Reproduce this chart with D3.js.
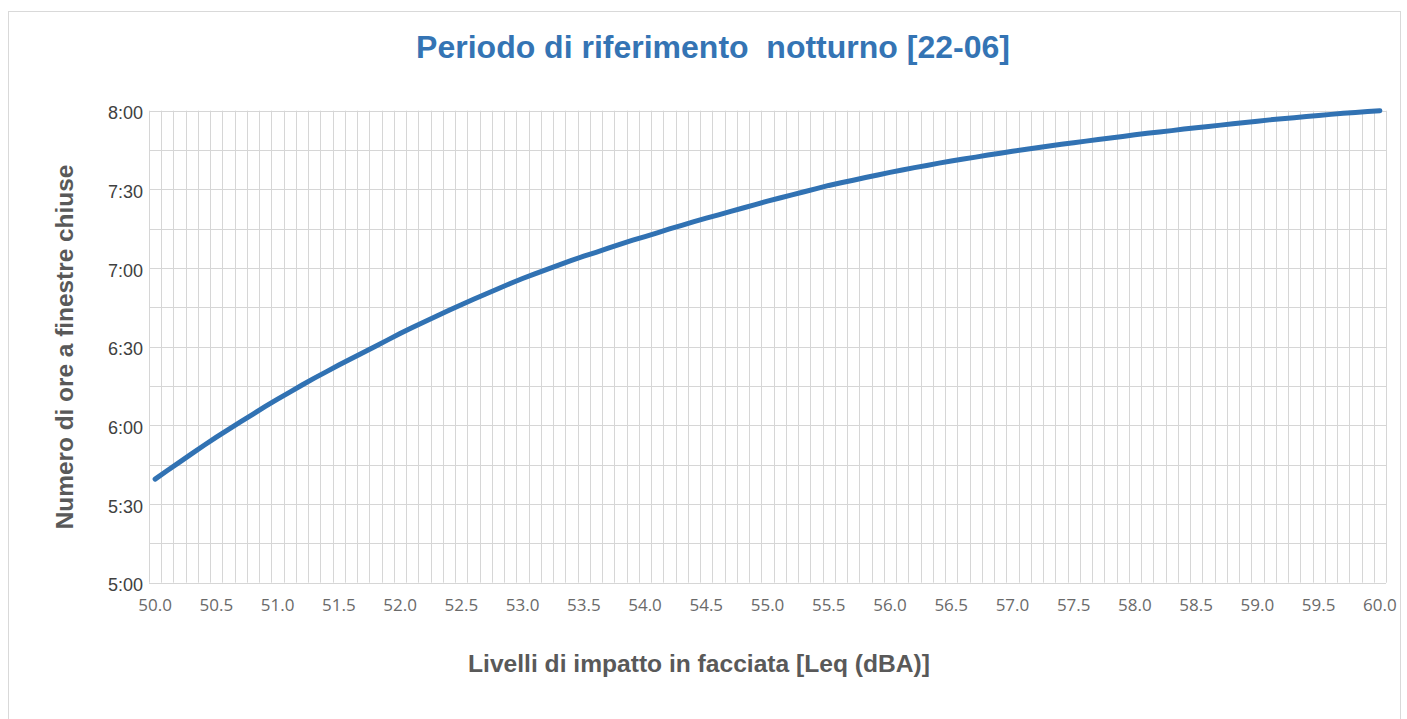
<!DOCTYPE html>
<html>
<head>
<meta charset="utf-8">
<script src="https://cdn.jsdelivr.net/npm/d3@7"></script>
<style>
  html, body { margin: 0; padding: 0; background: #ffffff; }
  svg { display: block; }
</style>
</head>
<body>
<svg id="chart" width="1407" height="719"></svg>
<script>
// ---- Data ----
const categories = [
  "50.0","50.1","50.2","50.3","50.4","50.5","50.6","50.7","50.8","50.9",
  "51.0","51.1","51.2","51.3","51.4","51.5","51.6","51.7","51.8","51.9",
  "52.0","52.1","52.2","52.3","52.4","52.5","52.6","52.7","52.8","52.9",
  "53.0","53.1","53.2","53.3","53.4","53.5","53.6","53.7","53.8","53.9",
  "54.0","54.1","54.2","54.3","54.4","54.5","54.6","54.7","54.8","54.9",
  "55.0","55.1","55.2","55.3","55.4","55.5","55.6","55.7","55.8","55.9",
  "56.0","56.1","56.2","56.3","56.4","56.5","56.6","56.7","56.8","56.9",
  "57.0","57.1","57.2","57.3","57.4","57.5","57.6","57.7","57.8","57.9",
  "58.0","58.1","58.2","58.3","58.4","58.5","58.6","58.7","58.8","58.9",
  "59.0","59.1","59.2","59.3","59.4","59.5","59.6","59.7","59.8","59.9",
  "60.0"
];
// closed-window time, in minutes (e.g. 339.5 = about 5:39)
const minutesClosed = [
  339.5,342.8,346.0,349.2,352.4,355.5,358.5,361.4,364.3,367.2,
  370.0,372.7,375.4,378.0,380.5,383.0,385.4,387.8,390.2,392.6,
  395.0,397.3,399.5,401.7,403.9,406.0,408.1,410.1,412.1,414.1,
  416.0,417.8,419.5,421.2,422.9,424.5,426.0,427.6,429.1,430.6,
  432.0,433.4,434.9,436.3,437.7,439.0,440.3,441.6,442.9,444.2,
  445.5,446.7,447.9,449.1,450.3,451.5,452.5,453.5,454.5,455.5,
  456.5,457.4,458.3,459.1,460.0,460.8,461.6,462.3,463.1,463.8,
  464.5,465.2,465.9,466.5,467.2,467.8,468.4,469.0,469.6,470.2,
  470.8,471.4,471.9,472.4,473.0,473.5,474.0,474.5,475.0,475.5,
  476.0,476.5,476.9,477.3,477.8,478.2,478.6,479.0,479.3,479.7,
  480.0
];
const xTickLabels = ["50.0","50.5","51.0","51.5","52.0","52.5","53.0","53.5","54.0","54.5",
  "55.0","55.5","56.0","56.5","57.0","57.5","58.0","58.5","59.0","59.5","60.0"];
const yTickMinutes = [300, 330, 360, 390, 420, 450, 480];
const yTickLabels = ["5:00","5:30","6:00","6:30","7:00","7:30","8:00"];
const yGridMinutes = [300,315,330,345,360,375,390,405,420,435,450,465,480];

const titleText = "Periodo di riferimento  notturno [22-06]";
const xTitleText = "Livelli di impatto in facciata [Leq (dBA)]";
const yTitleText = "Numero di ore a finestre chiuse";

// ---- Layout ----
const svg = d3.select("#chart");
const plot = { left: 149, right: 1386, top: 110.7, bottom: 582.7 };

// outer frame
svg.append("rect")
  .attr("x", 8.5).attr("y", 11.5)
  .attr("width", 1392).attr("height", 720)
  .attr("fill", "#ffffff")
  .attr("stroke", "#d9d9d9").attr("stroke-width", 1);

const x = d3.scaleBand().domain(categories).range([plot.left, plot.right]).padding(0);
const y = d3.scaleLinear().domain([300, 480]).range([plot.bottom, plot.top]);
const bw = x.bandwidth();
const cx = c => x(c) + bw / 2;

const grid = svg.append("g").attr("class", "grid");
// vertical gridlines at every category boundary
const vBounds = categories.map(c => x(c)).concat([plot.right]);
grid.selectAll("line.v").data(vBounds).join("line")
  .attr("class", "v")
  .attr("x1", d => Math.round(d) + 0.5).attr("x2", d => Math.round(d) + 0.5)
  .attr("y1", plot.top).attr("y2", plot.bottom)
  .attr("stroke", "#d6d6d6").attr("stroke-width", 1);
// horizontal gridlines every 15 minutes
grid.selectAll("line.h").data(yGridMinutes).join("line")
  .attr("class", "h")
  .attr("x1", plot.left).attr("x2", plot.right)
  .attr("y1", d => Math.round(y(d)) + 0.5).attr("y2", d => Math.round(y(d)) + 0.5)
  .attr("stroke", "#d6d6d6").attr("stroke-width", 1);

// Y axis labels
const yAxis = d3.axisLeft(y)
  .tickValues(yTickMinutes)
  .tickFormat((d, i) => yTickLabels[i])
  .tickSize(0).tickPadding(5);
const yg = svg.append("g").attr("transform", `translate(${plot.left - 1},0)`).call(yAxis);
yg.select(".domain").remove();
yg.selectAll("text")
  .attr("font-family", "Arial, 'Liberation Sans', sans-serif")
  .attr("font-size", "18px")
  .attr("fill", "#404040")
  .attr("dy", "0.45em");

// X axis labels
const xAxis = d3.axisBottom(x)
  .tickValues(xTickLabels)
  .tickSize(0).tickPadding(16);
const xg = svg.append("g").attr("transform", `translate(0,${plot.bottom})`).call(xAxis);
xg.select(".domain").remove();
xg.selectAll("text")
  .attr("font-family", "'Open Sans', sans-serif")
  .attr("font-size", "17px")
  .attr("fill", "#6a6a6a");

// Line
const line = d3.line()
  .x((d, i) => cx(categories[i]))
  .y(d => y(d));
svg.append("path")
  .datum(minutesClosed)
  .attr("d", line)
  .attr("fill", "none")
  .attr("stroke", "#3172b3")
  .attr("stroke-width", 5)
  .attr("stroke-linejoin", "round")
  .attr("stroke-linecap", "round");

// Titles
svg.append("text")
  .attr("x", 713).attr("y", 58)
  .attr("text-anchor", "middle")
  .attr("font-family", "Arial, 'Liberation Sans', sans-serif")
  .attr("font-weight", "bold")
  .attr("font-size", "32px")
  .attr("fill", "#3474b4")
  .style("white-space", "pre")
  .text(titleText);

svg.append("text")
  .attr("x", 699).attr("y", 672)
  .attr("text-anchor", "middle")
  .attr("font-family", "Arial, 'Liberation Sans', sans-serif")
  .attr("font-weight", "bold")
  .attr("font-size", "24.6px")
  .attr("fill", "#595959")
  .text(xTitleText);

svg.append("text")
  .attr("transform", "translate(73,347) rotate(-90)")
  .attr("text-anchor", "middle")
  .attr("font-family", "Arial, 'Liberation Sans', sans-serif")
  .attr("font-weight", "bold")
  .attr("font-size", "24.4px")
  .attr("fill", "#595959")
  .text(yTitleText);
</script>
</body>
</html>
